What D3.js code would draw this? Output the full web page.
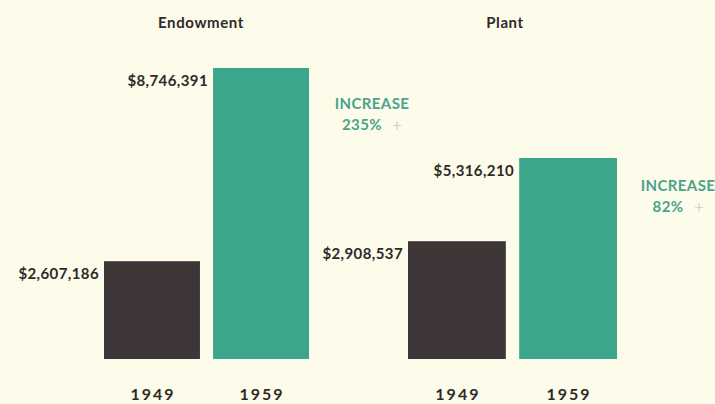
<!DOCTYPE html>
<html><head><meta charset="utf-8">
<script src="https://cdn.jsdelivr.net/npm/d3@7"></script>
<style>
html,body{margin:0;padding:0;background:#fdfbea;}
svg{display:block;}
text{font-family:Lato,"Open Sans",sans-serif;font-weight:700;}
</style></head>
<body><svg id="c" width="715" height="404"></svg>
<script>
const panels = ["Endowment", "Plant"];
const years = ["1949", "1959"];
const endowmentValues = [2607186, 8746391];
const plantValues = [2908537, 5316210];
const increaseLabels = ["235%", "82%"];

const W = 715, H = 404;
const svg = d3.select("#c");
svg.append("rect").attr("width", W).attr("height", H).attr("fill", "#fdfbea");

const colors = ["#3e3636", "#3ba68b"];
const textDark = "#2f2a2a";
const teal = "#4aa38c";
const fmt = v => "$" + d3.format(",")(v);

const layout = [
  {range: [104, 309], top: 68, titleX: 201, inc: [372, 109], plusX: 397},
  {range: [408, 617], top: 158, titleX: 505, inc: [678, 191], plusX: 699}
];
const seriesByPanel = [endowmentValues, plantValues];
const baseline = 359;

panels.forEach((name, i) => {
  const vals = seriesByPanel[i];
  const L = layout[i];
  const x = d3.scaleBand().domain(years).range(L.range).paddingInner(0.12).paddingOuter(0);
  const y = d3.scaleLinear().domain([-500000, d3.max(vals)]).range([baseline, L.top]);
  const g = svg.append("g");
  const data = years.map((yr, j) => ({yr, v: vals[j], j}));

  g.selectAll("rect.bar").data(data).join("rect")
    .attr("class", "bar")
    .attr("x", d => x(d.yr))
    .attr("width", x.bandwidth())
    .attr("y", d => y(d.v))
    .attr("height", d => baseline - y(d.v))
    .attr("fill", d => colors[d.j]);

  g.selectAll("text.val").data(data).join("text")
    .attr("class", "val")
    .attr("x", d => x(d.yr) - 5)
    .attr("y", d => y(d.v) + 18)
    .attr("text-anchor", "end")
    .attr("font-size", 15)
    .attr("letter-spacing", 0.4)
    .attr("fill", textDark)
    .text(d => fmt(d.v));

  g.selectAll("text.yr").data(data).join("text")
    .attr("class", "yr")
    .attr("x", d => x(d.yr) + x.bandwidth() / 2 + 1)
    .attr("y", 400)
    .attr("text-anchor", "middle")
    .attr("font-size", 16)
    .attr("letter-spacing", 2)
    .attr("fill", textDark)
    .text(d => d.yr);

  svg.append("text")
    .attr("x", L.titleX)
    .attr("y", 28)
    .attr("text-anchor", "middle")
    .attr("font-size", 15)
    .attr("letter-spacing", 0.6)
    .attr("fill", textDark)
    .text(name);

  svg.append("text")
    .attr("x", L.inc[0])
    .attr("y", L.inc[1])
    .attr("text-anchor", "middle")
    .attr("font-size", 15)
    .attr("letter-spacing", 0.4)
    .attr("fill", teal)
    .text("INCREASE");

  svg.append("text")
    .attr("x", L.inc[0] - 10)
    .attr("y", L.inc[1] + 21)
    .attr("text-anchor", "middle")
    .attr("font-size", 15)
    .attr("letter-spacing", 0.4)
    .attr("fill", teal)
    .text(increaseLabels[i]);

  svg.append("text")
    .attr("x", L.plusX)
    .attr("y", L.inc[1] + 22)
    .attr("text-anchor", "middle")
    .attr("font-size", 18)
    .style("font-weight", 300)
    .attr("fill", "#9ccbbd")
    .text("+");
});
</script></body></html>
